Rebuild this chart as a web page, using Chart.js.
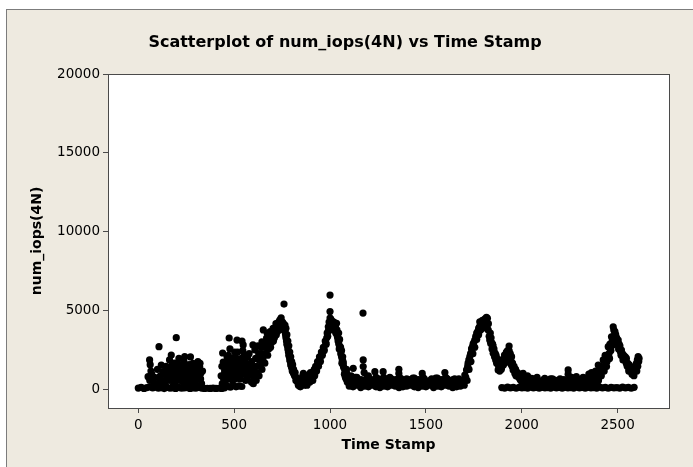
<!DOCTYPE html>
<html>
<head>
<meta charset="utf-8">
<script src="https://cdn.jsdelivr.net/npm/chart.js@4.4.0/dist/chart.umd.min.js"></script>
<style>
  html, body { margin: 0; padding: 0; background: #fff; }
  canvas { display: block; }
</style>
</head>
<body>
<canvas id="scatterChart" width="693" height="467"></canvas>
<script>
// tick labels
const xTicks = [0, 500, 1000, 1500, 2000, 2500];
const yTicks = [0, 5000, 10000, 15000, 20000];

// 0 - 600: flat run plus noisy cloud
const earlyTime = [
  0, 15, 30, 45, 60, 75, 90, 105, 120, 135, 150, 165, 180, 195, 210, 225, 240, 255, 270, 285,
  300, 315, 330, 345, 360, 375, 390, 405, 420, 435, 450, 465, 480, 495, 510, 525, 540,
  51, 59, 62, 66, 80, 95, 108, 115, 120, 128, 135, 140, 150, 155, 163, 168, 172, 176, 181, 185,
  190, 195, 198, 202, 207, 212, 216, 220, 226, 233, 238, 242, 246, 250, 255, 260, 265, 268, 272,
  278, 285, 286, 292, 297, 302, 308, 311, 316, 320, 322, 326, 330, 335,
  432, 436, 440, 443, 446, 450, 455, 460, 465, 470, 474, 478, 482, 486, 490, 495, 500, 505, 510,
  515, 518, 522, 526, 530, 535, 541, 545, 547, 550, 555, 560, 565, 570, 575, 580, 583, 590, 595
];
const earlyIops = [
  120, 160, 100, 150, 200, 130, 180, 110, 150, 90, 170, 120, 140, 100, 160, 110, 130, 150, 100, 140,
  110, 160, 120, 100, 110, 100, 120, 100, 110, 100, 140, 250, 180, 300, 200, 260, 220,
  840, 1900, 1600, 1200, 500, 300, 2740, 900, 1580, 1160, 600, 1000, 1300, 700, 1900, 1100, 2215, 1600, 1480, 900,
  840, 1300, 3310, 1700, 1270, 2000, 600, 1500, 1000, 1480, 1800, 2110, 1200, 840, 400, 1300, 1600, 630, 2090,
  1000, 1690, 1390, 500, 1200, 840, 1500, 1800, 700, 1480, 1690, 1060, 400, 1200,
  900, 1500, 2340, 1770, 950, 1200, 600, 1800, 1300, 2200, 3290, 2600, 1600, 900, 1400, 2000, 1100, 700, 1700,
  3160, 2400, 1300, 800, 1900, 1500, 3100, 2500, 2850, 1000, 1800, 600, 1300, 2100, 900, 1600, 1270, 500, 1100
];
const earlyFillTime = [
  60, 70, 85, 100, 112, 125, 140, 145, 150, 158, 165, 170, 178, 183, 188, 193, 200, 205, 210, 218,
  224, 230, 236, 240, 248, 253, 258, 263, 270, 275, 282, 288, 295, 300, 305, 312, 318, 325,
  438, 445, 452, 458, 463, 468, 476, 480, 488, 492, 498, 503, 508, 512, 520, 525, 532, 538, 543,
  552, 558, 563, 568, 573, 578, 586, 592, 598
];
const earlyFillIops = [
  600, 1000, 800, 1300, 600, 300, 400, 1500, 800, 1200, 600, 1400, 1000, 300, 1700, 500, 1100, 800, 1600, 1000,
  1300, 700, 400, 1600, 1000, 1500, 700, 900, 1200, 400, 800, 1100, 700, 1500, 300, 1000, 1200, 700,
  400, 700, 1500, 1000, 2100, 700, 1700, 1200, 1900, 600, 1500, 2400, 1000, 2000, 1700, 1100, 700, 2000, 1400,
  2200, 1200, 1700, 800, 1500, 2300, 1000, 1800, 1400
];

// first hump, ~600 - 900
const peakATime = [
  600, 615, 630, 645, 660, 675, 690, 705, 720, 735, 745,
  600, 615, 630, 645, 660, 675, 690, 705, 720, 735, 748,
  598, 608, 624, 645, 652, 669, 683, 696, 713, 728, 738, 745, 752, 760, 765,
  760, 765, 770, 775, 780, 785, 790, 795, 800, 805, 812, 820, 826,
  770, 775, 780, 785, 790, 795, 800, 805, 810, 818,
  830, 840, 845, 850, 861, 865, 870, 875, 880, 887, 895, 900,
  605, 620, 635, 650, 665, 680, 695, 710, 725, 740, 750, 755,
  612, 628, 640, 655, 672, 688, 703, 718, 732, 742,
  757, 762, 768, 773, 778, 783, 788, 793, 798, 803, 808, 815, 822, 835, 855, 858, 890, 898
];
const peakAIops = [
  400, 600, 900, 1300, 1700, 2200, 2700, 3100, 3500, 3800, 3900,
  1200, 1500, 1900, 2300, 2700, 3000, 3300, 3600, 3900, 4200, 4300,
  2850, 2530, 2800, 3040, 3800, 3290, 3300, 3350, 3920, 4100, 4430, 4560, 4300, 5440, 4110,
  4000, 3700, 3300, 2900, 2600, 2200, 1900, 1600, 1400, 1270, 1000, 840, 700,
  3900, 3500, 3100, 2800, 2400, 2100, 1800, 1600, 1300, 1100,
  500, 700, 200, 400, 1050, 300, 600, 800, 300, 950, 500, 800,
  800, 1100, 1500, 1900, 2300, 2600, 3000, 3300, 3700, 4000, 4100, 3900,
  2000, 2300, 2700, 3000, 3600, 3700, 3900, 4200, 4300, 4200,
  4200, 3800, 3500, 3100, 2800, 2400, 2100, 1800, 1500, 1200, 1100, 900, 600, 300, 600, 900, 600, 1100
];

// second hump, ~900 - 1100
const peakBTime = [
  905, 915, 925, 935, 945, 955, 965, 975, 985, 991, 995, 1000, 1000, 1000,
  910, 920, 930, 940, 950, 960, 970, 980, 988, 995, 1005, 1010,
  1015, 1020, 1025, 1030, 1034, 1038, 1042, 1045, 1046, 1050, 1052, 1055, 1056, 1060, 1060,
  1064, 1066, 1069, 1070, 1072, 1078, 1080, 1087, 1090, 1172,
  903, 912, 918, 928, 938, 948, 958, 968, 978, 983, 990, 998, 1003, 1008, 1012, 1018,
  1028, 1036, 1040, 1048, 1058, 1062, 1068, 1075, 1084, 1086
];
const peakBIops = [
  900, 1200, 1500, 1800, 2100, 2400, 2700, 3100, 3600, 4000, 4300, 4550, 4960, 6010,
  600, 900, 1200, 1500, 1800, 2200, 2500, 2900, 3400, 3800, 4300, 4200,
  4100, 4300, 3900, 3600, 4220, 3400, 3100, 3600, 2900, 3200, 2740, 2700, 2300, 2100, 2500,
  1900, 2100, 1690, 1500, 1400, 1200, 800, 1050, 500, 4870,
  600, 1000, 1300, 1400, 1700, 2000, 2300, 2600, 3000, 3300, 3700, 4100, 4500, 4400, 3900, 3800,
  4000, 3800, 3300, 2600, 2500, 1700, 1800, 1000, 700, 1300
];

// quiet stretch, ~1100 - 1700
const midTime = [
  1095, 1110, 1125, 1140, 1155, 1170, 1185, 1200, 1215, 1230, 1245, 1260, 1275, 1290, 1305, 1320,
  1335, 1350, 1365, 1380, 1395, 1410, 1425, 1440, 1455, 1470, 1485, 1500, 1515, 1530, 1545, 1560,
  1575, 1590, 1605, 1620, 1635, 1650, 1665, 1680, 1695,
  1100, 1120, 1140, 1160, 1180, 1200, 1220, 1240, 1260, 1280, 1300, 1320, 1340, 1360, 1380, 1400,
  1420, 1440, 1460, 1480, 1500, 1520, 1540, 1560, 1580, 1600, 1620, 1640, 1660, 1680, 1700,
  1110, 1121, 1140, 1173, 1173, 1178, 1200, 1234, 1240, 1277, 1280, 1320, 1359, 1359, 1362, 1400,
  1440, 1481, 1485, 1530, 1560, 1599, 1603, 1650, 1680
];
const midIops = [
  600, 500, 650, 450, 550, 600, 400, 500, 650, 450, 550, 500, 400, 600, 450, 500,
  550, 400, 600, 450, 500, 650, 400, 550, 450, 500, 600, 400, 550, 500, 450, 600,
  400, 500, 550, 450, 600, 500, 400, 550, 500,
  250, 200, 300, 150, 250, 200, 300, 200, 150, 250, 200, 300, 250, 150, 200, 250,
  300, 200, 150, 250, 200, 300, 150, 250, 200, 300, 250, 150, 200, 250, 300,
  900, 1370, 800, 1900, 1480, 1100, 900, 1160, 800, 1160, 800, 700, 1310, 1050, 800, 700,
  750, 1050, 800, 700, 750, 1100, 800, 700, 600
];
const midFillTime = [
  1102, 1117, 1132, 1147, 1162, 1177, 1192, 1207, 1222, 1237, 1252, 1267, 1282, 1297, 1312, 1327,
  1342, 1357, 1372, 1387, 1402, 1417, 1432, 1447, 1462, 1477, 1492, 1507, 1522, 1537, 1552, 1567,
  1582, 1597, 1612, 1627, 1642, 1657, 1672, 1687, 1702
];
const midFillIops = [
  700, 350, 800, 400, 650, 350, 750, 400, 600, 350, 700, 400, 650, 350, 800, 400,
  650, 350, 700, 400, 600, 350, 750, 400, 650, 350, 700, 400, 600, 350, 750, 400,
  650, 350, 700, 400, 650, 350, 700, 400, 600
];

// third hump, ~1700 - 2000
const peakCTime = [
  1703, 1712, 1720, 1729, 1738, 1746, 1755, 1765, 1775, 1781, 1790, 1800, 1808, 1816, 1821,
  1715, 1725, 1735, 1745, 1755, 1765, 1775, 1785, 1795, 1805, 1815,
  1825, 1830, 1833, 1838, 1845, 1851, 1858, 1864, 1869, 1877, 1880, 1886, 1890, 1895, 1903,
  1910, 1912, 1920, 1926, 1934, 1934, 1940, 1947, 1947, 1955, 1964, 1970, 1981, 1990, 2007,
  1840, 1848, 1855, 1862, 1870, 1878, 1885, 1895, 1905, 1915, 1925, 1930, 1940, 1950, 1958, 1965, 1975,
  1708, 1718, 1724, 1733, 1742, 1750, 1760, 1770, 1779, 1786, 1795, 1803, 1812, 1818, 1826, 1836,
  1843, 1850, 1856, 1866, 1873, 1883, 1893, 1900, 1908, 1918, 1928, 1938, 1945, 1952, 1960, 1968,
  1978, 1985, 1997, 2003
];
const peakCIops = [
  950, 1270, 1700, 2110, 2600, 2900, 3160, 3600, 3900, 4320, 4200, 4300, 4500, 4600, 4540,
  600, 1300, 1800, 2300, 2700, 3200, 3500, 3800, 3900, 4000, 4100,
  3800, 3400, 3160, 2950, 2600, 2320, 2100, 1900, 1690, 1270, 1500, 1480, 1700, 1900, 1900,
  2215, 2000, 2400, 2500, 2780, 2500, 2300, 2110, 1580, 1270, 1050, 900, 840, 700, 1050,
  3300, 2900, 2600, 2300, 2000, 1800, 1200, 1400, 1600, 1800, 2000, 1800, 1700, 1500, 1400, 1200, 1000,
  800, 1500, 1900, 2300, 2700, 3000, 3400, 3700, 4000, 4100, 4400, 4200, 4400, 4200, 4200, 3600,
  3000, 2800, 2400, 2200, 1900, 1700, 1300, 1600, 1800, 2100, 2200, 2000, 1800, 1700, 1500, 1300,
  1100, 900, 800, 700
];

// low floor and scattered band, ~1900 - 2600
const lateTime = [
  1896, 1911, 1926, 1941, 1956, 1971, 1986, 2001, 2016, 2031, 2046, 2061, 2076, 2091, 2106, 2121,
  2136, 2151, 2166, 2181, 2196, 2211, 2226, 2241, 2256, 2271, 2286, 2301, 2316, 2331, 2346, 2361,
  2376, 2391, 2406, 2421, 2436, 2451, 2466, 2481, 2496, 2511, 2526, 2541, 2556, 2571, 2586,
  1995, 2010, 2025, 2040, 2055, 2070, 2085, 2100, 2115, 2130, 2145, 2160, 2175, 2190, 2205, 2220,
  2235, 2250, 2265, 2280, 2295, 2310, 2325, 2340, 2355, 2370, 2385, 2400,
  2030, 2051, 2080, 2120, 2150, 2172, 2200, 2242, 2242, 2260, 2285, 2320, 2350, 2364, 2380,
  2003, 2018, 2033, 2048, 2063, 2078, 2093, 2108, 2123, 2138, 2153, 2168, 2183, 2198, 2213, 2228,
  2243, 2258, 2273, 2288, 2303, 2318, 2333, 2348, 2363, 2378, 2393
];
const lateIops = [
  150, 120, 180, 130, 160, 110, 170, 140, 150, 120, 180, 130, 160, 110, 170, 140,
  150, 120, 180, 130, 160, 110, 170, 140, 150, 120, 180, 130, 160, 110, 170, 140,
  150, 120, 180, 130, 160, 110, 170, 140, 150, 120, 180, 130, 160, 110, 170,
  600, 500, 650, 550, 700, 450, 600, 550, 650, 500, 600, 700, 450, 600, 550, 650,
  500, 700, 600, 450, 650, 550, 600, 500, 700, 550, 600, 650,
  900, 740, 800, 740, 700, 630, 700, 1270, 1000, 800, 840, 800, 700, 1100, 800,
  350, 400, 300, 380, 420, 330, 360, 400, 310, 370, 420, 340, 380, 300, 400, 350,
  420, 330, 380, 360, 400, 310, 370, 420, 340, 380, 400
];

// last hump, ~2400 - 2610
const peakDTime = [
  2390, 2399, 2410, 2425, 2435, 2442, 2451, 2455, 2460, 2468, 2472, 2477, 2480, 2486, 2490, 2495,
  2503, 2508, 2512, 2520, 2525, 2532, 2540, 2546, 2552, 2560, 2566, 2572, 2578, 2581, 2590, 2598,
  2603, 2607, 2605,
  2400, 2415, 2430, 2445, 2458, 2465, 2475, 2485, 2495, 2505, 2515, 2530, 2545, 2560, 2575,
  2350, 2370, 2385, 2395, 2405, 2420, 2438, 2448, 2462, 2470, 2478, 2483, 2492, 2500, 2510, 2518,
  2528, 2538, 2550, 2558, 2568, 2585, 2595, 2600, 2610, 2612
];
const peakDIops = [
  900, 1580, 1500, 1900, 2200, 1480, 2740, 2300, 2900, 3370, 3100, 4000, 3800, 3690, 3500, 3300,
  3160, 2900, 2800, 2530, 2300, 2200, 2100, 2000, 1700, 1600, 1500, 1370, 1200, 1050, 1300, 1690,
  1900, 2110, 1500,
  600, 900, 1200, 1800, 2000, 2500, 2900, 3000, 2900, 2600, 2400, 2000, 1700, 1300, 1000,
  1000, 900, 1200, 1200, 1000, 1400, 1700, 2200, 2600, 2800, 3400, 3300, 3100, 2900, 2600, 2200,
  1900, 1900, 1500, 1200, 1200, 900, 1500, 1200, 1800, 2000
];

function toPoints(times, values) {
    return times.map((t, i) => ({ x: t, y: values[i] }));
}

const allPoints = [].concat(
    toPoints(earlyTime, earlyIops),
    toPoints(earlyFillTime, earlyFillIops),
    toPoints(peakATime, peakAIops),
    toPoints(peakBTime, peakBIops),
    toPoints(midTime, midIops),
    toPoints(midFillTime, midFillIops),
    toPoints(peakCTime, peakCIops),
    toPoints(lateTime, lateIops),
    toPoints(peakDTime, peakDIops)
);

const FONT = 'DejaVu Sans';

// beige panel, outer frame and white data region
const framePlugin = {
    id: 'frame',
    beforeDraw(chart) {
        const ctx = chart.ctx;
        const a = chart.chartArea;
        ctx.save();
        ctx.fillStyle = '#ffffff';
        ctx.fillRect(0, 0, chart.width, chart.height);
        ctx.fillStyle = '#eeeae0';
        ctx.fillRect(6, 9, chart.width, chart.height);
        ctx.strokeStyle = '#7c7c7c';
        ctx.lineWidth = 1;
        ctx.strokeRect(6.5, 9.5, chart.width + 10, chart.height + 10);
        ctx.fillStyle = '#ffffff';
        ctx.fillRect(a.left, a.top, a.right - a.left, a.bottom - a.top);
        ctx.restore();
    },
    afterDraw(chart) {
        const ctx = chart.ctx;
        const a = chart.chartArea;
        ctx.save();
        ctx.strokeStyle = '#4a4a4a';
        ctx.lineWidth = 1;
        ctx.strokeRect(Math.round(a.left) + 0.5, Math.round(a.top) + 0.5,
            Math.round(a.right - a.left), Math.round(a.bottom - a.top));
        ctx.restore();
    }
};

const ctx = document.getElementById('scatterChart').getContext('2d');
const iopsChart = new Chart(ctx, {
    type: 'scatter',
    data: {
        datasets: [{
            label: 'num_iops(4N)',
            data: allPoints,
            backgroundColor: '#000000',
            borderColor: '#000000',
            borderWidth: 0,
            pointRadius: 3.6,
            pointHoverRadius: 3.6
        }]
    },
    options: {
        responsive: false,
        animation: false,
        layout: {
            padding: { left: 21, right: 24, top: 0, bottom: 0 }
        },
        plugins: {
            legend: { display: false },
            tooltip: { enabled: false },
            title: {
                display: true,
                text: 'Scatterplot of num_iops(4N) vs Time Stamp',
                color: '#000',
                font: { family: FONT, size: 16, weight: 'bold' },
                padding: { top: 33.5, bottom: 21.3 }
            }
        },
        scales: {
            x: {
                type: 'linear',
                position: 'bottom',
                min: -158,
                max: 2768,
                afterBuildTicks: scale => { scale.ticks = xTicks.map(v => ({ value: v })); },
                afterFit: scale => { scale.height = 59; },
                grid: { drawOnChartArea: false, drawTicks: true, tickLength: 5, color: '#4a4a4a' },
                border: { display: false },
                ticks: {
                    color: '#000',
                    font: { family: FONT, size: 13.5 },
                    padding: 4,
                    maxRotation: 0,
                    callback: v => String(v)
                },
                title: {
                    display: true,
                    text: 'Time Stamp',
                    color: '#000',
                    font: { family: FONT, size: 14, weight: 'bold' },
                    padding: { top: 0, bottom: 13.6 }
                }
            },
            y: {
                type: 'linear',
                min: -1140,
                max: 20000,
                afterBuildTicks: scale => { scale.ticks = yTicks.map(v => ({ value: v })); },
                afterFit: scale => { scale.width = 87; },
                grid: { drawOnChartArea: false, drawTicks: true, tickLength: 5, color: '#4a4a4a' },
                border: { display: false },
                ticks: {
                    color: '#000',
                    font: { family: FONT, size: 13.5 },
                    padding: 3,
                    callback: v => String(v)
                },
                title: {
                    display: true,
                    text: 'num_iops(4N)',
                    color: '#000',
                    font: { family: FONT, size: 14, weight: 'bold' },
                    padding: { top: 7.6, bottom: 0 }
                }
            }
        }
    },
    plugins: [framePlugin]
});
</script>
</body>
</html>
